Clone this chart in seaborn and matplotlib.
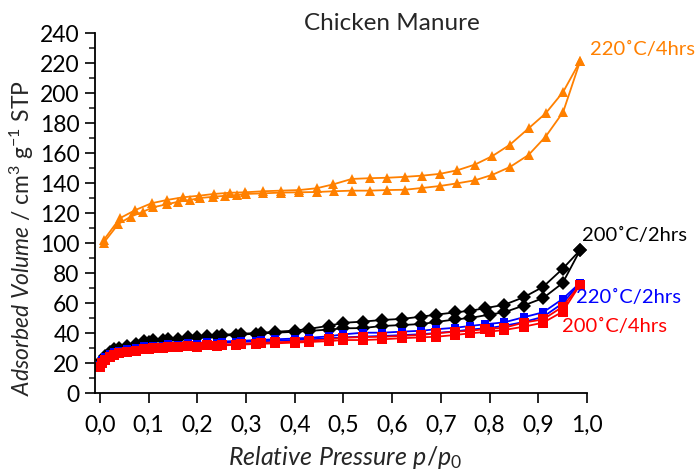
import numpy as np
import pandas as pd
import matplotlib
matplotlib.use("Agg")
import matplotlib.pyplot as plt
import seaborn as sns

# Relative pressure points (p/p0) and adsorbed volumes (cm3 g-1 STP)
p_ads = [0.001, 0.005, 0.01, 0.02, 0.03, 0.04, 0.055, 0.075, 0.10, 0.13, 0.16, 0.20,
         0.24, 0.28, 0.32, 0.36, 0.40, 0.43, 0.47, 0.50, 0.54, 0.58, 0.62, 0.66, 0.69,
         0.73, 0.76, 0.80, 0.83, 0.87, 0.91, 0.95, 0.986]
p_des = [0.986, 0.95, 0.91, 0.87, 0.83, 0.79, 0.76, 0.73, 0.69, 0.66, 0.62, 0.58, 0.54,
         0.50, 0.47, 0.43, 0.40, 0.36, 0.33, 0.29, 0.25, 0.22, 0.18, 0.14, 0.11, 0.09]

black_ads = [19, 22.5, 25, 27.5, 29.3, 30.5, 31.8, 33, 34.3, 35.5, 36.3, 37.3, 38.2, 39,
             39.7, 40.4, 41, 41.6, 42.5, 43.3, 43.5, 44.9, 45.5, 46.2, 47.5, 49.3, 50.2,
             52.5, 54, 58.5, 63.5, 73.5, 95.5]
black_des = [95.5, 83, 71, 64, 59, 56.7, 55, 54, 52.4, 51.1, 49.6, 48.9, 47.8, 47, 45,
             43, 41.8, 41, 40.3, 39.7, 39, 38.3, 37.5, 36.5, 35.5, 34.7]

blue_ads = [19, 22, 24, 26, 27.5, 28.5, 29.4, 30.2, 31, 31.7, 32.3, 33, 33.6, 34.1, 34.6,
            35, 35.5, 36, 36.6, 37.3, 37.8, 38.2, 38.8, 39.4, 40.2, 41.3, 42.5, 43.6, 45,
            47.5, 51, 60, 73.7]
blue_des = [73.7, 62.9, 54, 50.7, 47.3, 46, 44.9, 43.7, 42.7, 41.7, 41.1, 40.4, 40.4,
            39.3, 38, 37, 36.5, 36, 35.6, 35, 34.5, 34, 33.3, 32.6, 31.8, 31.3]

red_ads = [17.8, 20.5, 22.5, 24.5, 25.8, 27, 27.8, 28.5, 29.3, 30, 30.6, 31.1, 31.8, 32.3,
           32.9, 33.3, 33.8, 34.2, 34.8, 35.5, 35.5, 36, 36.7, 37.3, 37.7, 38.9, 40, 41.1,
           42.2, 44.4, 47.1, 54.4, 72.5]
red_des = [72.5, 57.7, 49.3, 47.1, 43.7, 42.7, 41.7, 41.1, 40, 38.9, 38.2, 37.7, 37.5,
           37, 36, 35, 34.5, 34, 33.6, 33, 32.5, 32, 31.4, 30.8, 30, 29.6]

orange_p_ads = [0.008, 0.038, 0.063, 0.089, 0.109, 0.137, 0.161, 0.185, 0.205, 0.233,
                0.257, 0.281, 0.301, 0.335, 0.372, 0.409, 0.445, 0.481, 0.517, 0.554,
                0.590, 0.626, 0.662, 0.698, 0.734, 0.770, 0.806, 0.842, 0.880, 0.915,
                0.951, 0.986]
orange_ads = [100.4, 112.9, 117.7, 121.1, 124, 126, 127.7, 128.9, 130.2, 131, 131.7,
              132.2, 132.9, 133.3, 133.8, 134, 134.2, 134.7, 135.1, 135.1, 135.5, 135.7,
              136.9, 138.2, 140, 142, 145.7, 150.9, 158.9, 171.1, 187.5, 221.5]
orange_p_des = [0.986, 0.951, 0.915, 0.880, 0.842, 0.806, 0.770, 0.734, 0.698, 0.662,
                0.626, 0.590, 0.554, 0.517, 0.479, 0.445, 0.409, 0.372, 0.335, 0.298,
                0.267, 0.234, 0.203, 0.171, 0.138, 0.106, 0.073, 0.041, 0.008]
orange_des = [221.5, 200.9, 186.6, 176.6, 165.8, 158.2, 152.5, 148.7, 146.3, 145.1, 144.3,
              143.7, 143.4, 142.9, 139.3, 136.7, 135.5, 135.1, 134.7, 134, 133.7, 132.9,
              131.7, 130.7, 128.9, 126.7, 122.2, 116.7, 102.2]

series_labels = ["220˚C/4hrs", "200˚C/2hrs", "220˚C/2hrs", "200˚C/4hrs"]
x_tick_values = [0.0, 0.1, 0.2, 0.3, 0.4, 0.5, 0.6, 0.7, 0.8, 0.9, 1.0]
x_tick_labels = ["0,0", "0,1", "0,2", "0,3", "0,4", "0,5", "0,6", "0,7", "0,8", "0,9", "1,0"]
y_tick_values = list(range(0, 241, 20))

rows = []
for name, pa, va, pd_, vd in [
    (series_labels[0], orange_p_ads, orange_ads, orange_p_des, orange_des),
    (series_labels[1], p_ads, black_ads, p_des, black_des),
    (series_labels[2], p_ads, blue_ads, p_des, blue_des),
    (series_labels[3], p_ads, red_ads, p_des, red_des),
]:
    for p, v in zip(pa, va):
        rows.append((name, "ads", p, v))
    for p, v in zip(pd_, vd):
        rows.append((name, "des", p, v))
df = pd.DataFrame(rows, columns=["sample", "branch", "p", "V"])

sns.set_style("ticks")
plt.rcParams["font.family"] = ["Lato", "DejaVu Sans"]
plt.rcParams["mathtext.fontset"] = "custom"
plt.rcParams["mathtext.rm"] = "Lato"
plt.rcParams["mathtext.it"] = "Lato:italic"

FS = 16.5
fig = plt.figure(figsize=(6.98, 4.73), dpi=100)
ax = fig.add_axes([95 / 698, 1 - 393.3 / 473, (587 - 95) / 698, (393.3 - 33.3) / 473])

styles = {
    series_labels[0]: dict(color="#FF8000", marker="^", markersize=7.5),
    series_labels[1]: dict(color="black", marker="D", markersize=6.8),
    series_labels[2]: dict(color="#0000FF", marker="s", markersize=5.5),
    series_labels[3]: dict(color="#FF0000", marker="s", markersize=6.8),
}

for name in series_labels:
    st = styles[name]
    for branch in ["ads", "des"]:
        sub = df[(df["sample"] == name) & (df["branch"] == branch)]
        sns.lineplot(data=sub, x="p", y="V", sort=False, estimator=None, ax=ax,
                     color=st["color"], marker=st["marker"], markersize=st["markersize"],
                     markeredgewidth=0, linewidth=1.3, legend=False)

ax.set_xlim(-0.010, 1.0)
ax.set_ylim(0, 240)
ax.set_xticks(x_tick_values)
ax.set_xticklabels(x_tick_labels)
ax.set_yticks(y_tick_values)
ax.set_yticks(list(range(10, 240, 20)), minor=True)
ax.tick_params(axis="both", which="major", direction="out", length=7.5, width=1.2,
               labelsize=FS, colors="black")
ax.tick_params(axis="x", pad=8)
ax.tick_params(axis="y", which="minor", direction="out", length=4.5, width=1.2)
for side in ["top", "right"]:
    ax.spines[side].set_visible(False)
for side in ["left", "bottom"]:
    ax.spines[side].set_linewidth(1.3)
    ax.spines[side].set_color("black")

ax.set_xlabel(r"$\mathit{Relative\ Pressure\ p/p}_{0}$", fontsize=18)
ax.xaxis.set_label_coords((345 - 95) / 492, -(444 - 393.3) / 360)
ax.set_ylabel(r"$\mathit{Adsorbed\ Volume}$ / cm$^{3}$ g$^{-1}$ STP", fontsize=FS)
ax.yaxis.set_label_coords(-(95 - 36) / 492, (393.3 - 238) / 360)

fig.text(392 / 698, 1 - 23 / 473, "Chicken Manure", fontsize=17.5, ha="center", va="center")

label_pos = [(1.006, 229, "#FF8000"), (0.989, 105.5, "black"),
             (0.978, 64, "#0000FF"), (0.948, 44.4, "#FF0000")]
for name, (px, vy, c) in zip(series_labels, label_pos):
    ax.text(px, vy, name, color=c, fontsize=14.5, ha="left", va="center", clip_on=False)

fig.savefig("out.png", dpi=100)
